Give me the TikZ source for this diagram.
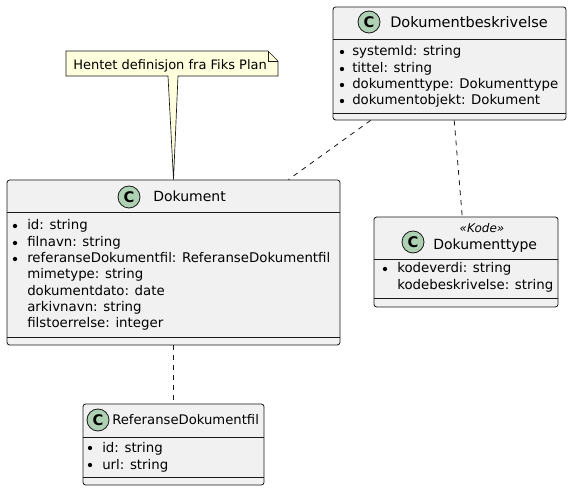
\documentclass[tikz,border=0pt]{standalone}
\usepackage{fontspec}
\setmainfont{DejaVu Sans}
\usetikzlibrary{fit}

\definecolor{boxfill}{HTML}{F1F1F1}
\definecolor{linecol}{HTML}{181818}
\definecolor{notefill}{HTML}{FEFFDD}
\definecolor{iconfill}{HTML}{ADD1B2}

\tikzset{
  classbox/.style={draw=linecol, fill=boxfill, rounded corners=2pt, line width=0.6pt, inner sep=0pt},
  classicon/.style={circle, draw=linecol, fill=iconfill, line width=0.6pt, minimum size=16.5pt, inner sep=0pt, font=\fontsize{11}{11}\selectfont\bfseries},
  classname/.style={anchor=base west, inner sep=0pt, font=\fontsize{10.5}{12}\selectfont},
  attr/.style={anchor=base west, inner sep=0pt, font=\fontsize{10}{12}\selectfont},
  dot/.style={circle, fill=black, minimum size=3.2pt, inner sep=0pt},
  sep/.style={draw=linecol, line width=0.6pt},
  assoc/.style={draw=linecol, line width=0.6pt, dash pattern=on 3.75pt off 3.75pt}
}

\begin{document}
\begin{tikzpicture}[x=0.75pt,y=-0.75pt]

\useasboundingbox (0,0) rectangle (571,491);

% class boxes
\node[classbox, fit={(333,7) (566,120)}] (beskrivelse) {};
\node[classbox, fit={(7,180) (340,345)}] (dokument) {};
\node[classbox, fit={(374,217) (558,307)}] (dokumenttype) {};
\node[classbox, fit={(83,404) (264,485)}] (referanse) {};

% Dokumentbeskrivelse
\node[classicon] (b-icon) at (369,22) {C};
\node[classname, font=\fontsize{10.9}{12}\selectfont] (b-name) at (390,28) {Dokumentbeskrivelse};
\draw[sep] (333,39) -- (566,39);
\node[dot] (b-d1) at (342,52) {};
\node[dot] (b-d2) at (342,69) {};
\node[dot] (b-d3) at (342,85) {};
\node[dot] (b-d4) at (342,101) {};
\node[attr] (b-a1) at (352,56) {systemId: string};
\node[attr] (b-a2) at (352,73) {tittel: string};
\node[attr] (b-a3) at (352,89) {dokumenttype: Dokumenttype};
\node[attr] (b-a4) at (352,105) {dokumentobjekt: Dokument};
\draw[sep] (333,113) -- (566,113);

% Dokument
\node[classicon] (d-icon) at (129,197) {C};
\node[classname] (d-name) at (153,202) {Dokument};
\draw[sep] (7,212) -- (340,212);
\node[dot] (d-d1) at (15,226) {};
\node[dot] (d-d2) at (15,243) {};
\node[dot] (d-d3) at (15,259) {};
\node[attr] (d-a1) at (27,230) {id: string};
\node[attr] (d-a2) at (27,247) {filnavn: string};
\node[attr] (d-a3) at (27,263) {referanseDokumentfil: ReferanseDokumentfil};
\node[attr] (d-a4) at (27,279) {mimetype: string};
\node[attr] (d-a5) at (27,296) {dokumentdato: date};
\node[attr] (d-a6) at (27,312) {arkivnavn: string};
\node[attr] (d-a7) at (27,328) {filstoerrelse: integer};
\draw[sep] (7,337) -- (340,337);

% Dokumenttype
\node[classicon] (t-icon) at (413,242) {C};
\node[anchor=base, inner sep=0pt, font=\fontsize{9}{10}\selectfont\itshape] (t-stereo) at (482,233) {«Kode»};
\node[classname] (t-name) at (433,250) {Dokumenttype};
\draw[sep] (374,259) -- (558,259);
\node[dot] (t-d1) at (385,269) {};
\node[attr] (t-a1) at (397,273) {kodeverdi: string};
\node[attr] (t-a2) at (397,290) {kodebeskrivelse: string};
\draw[sep] (374,298) -- (558,298);

% ReferanseDokumentfil
\node[classicon] (r-icon) at (98,420) {C};
\node[classname, font=\fontsize{9.9}{12}\selectfont] (r-name) at (112,425) {ReferanseDokumentfil};
\draw[sep] (83,437) -- (264,437);
\node[dot] (r-d1) at (90,448) {};
\node[dot] (r-d2) at (90,465) {};
\node[attr] (r-a1) at (102,452) {id: string};
\node[attr] (r-a2) at (102,469) {url: string};
\draw[sep] (83,477) -- (264,477);

% note
\draw[draw=linecol, fill=notefill, line width=0.5pt]
  (66,51) -- (268,51) -- (278,61) -- (278,76) -- (178,76) -- (dokument.north) -- (168,76) -- (66,76) -- cycle;
\draw[draw=linecol, line width=0.5pt] (268,51) -- (268,61) -- (278,61);
\node[anchor=base west, inner sep=0pt, font=\fontsize{9.75}{11}\selectfont] (note) at (73,70) {Hentet definisjon fra Fiks Plan};

% associations
\draw[assoc] (beskrivelse) -- (dokument);
\draw[assoc] (beskrivelse) -- (dokumenttype);
\draw[assoc] (dokument) -- (referanse);

\end{tikzpicture}
\end{document}
